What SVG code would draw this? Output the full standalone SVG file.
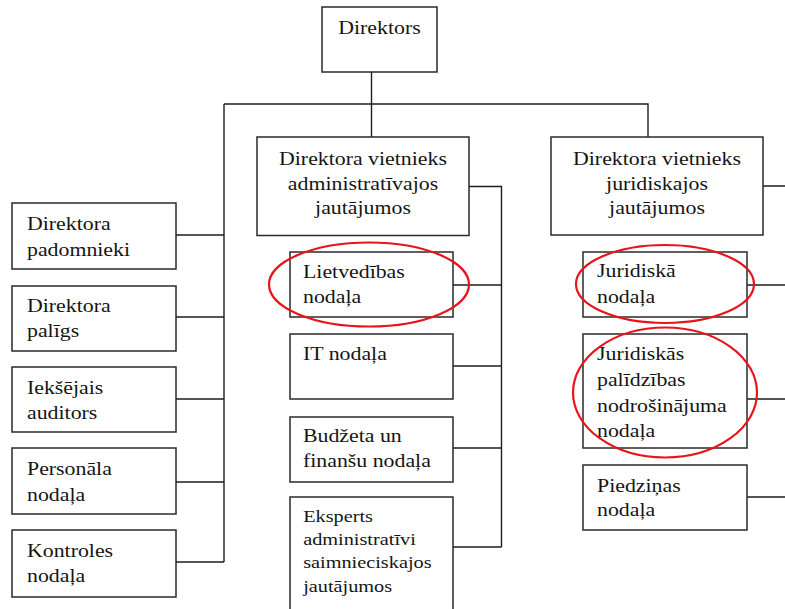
<svg xmlns="http://www.w3.org/2000/svg" width="785" height="609" viewBox="0 0 785 609" font-family="'Liberation Serif', 'DejaVu Serif', serif">
  <style>
    .box { fill: #ffffff; stroke: #2a2a2a; stroke-width: 1.5; }
    .wire { fill: none; stroke: #1e1e1e; stroke-width: 1.4; }
    .mark { fill: none; stroke: #e8141c; stroke-width: 2.2; }
    .t { font-family: 'Liberation Serif', 'DejaVu Serif', serif; font-size: 19.5px; fill: #151515;
         transform-box: fill-box; transform: scaleX(1.12); }
    .l { transform-origin: 0 0; }
    .c { text-anchor: middle; transform-origin: 50% 50%; }
    .sm { font-size: 17.5px; transform: scaleX(1.16); }
  </style>

  <!-- connectors -->
  <g id="connectors">
    <path class="wire" d="M371.5 72 V137 M224 104 H648 V137 M224 104 V562"/>
    <path class="wire" d="M176 235 H224 M176 317 H224 M176 399 H224 M176 482 H224 M176 562 H224"/>
    <path class="wire" d="M469 186.5 H501.5 V547 M453 285 H501.5 M453 366 H501.5 M453 448 H501.5 M453 547 H501.5"/>
    <path class="wire" d="M763 186 H785 M747 285 H785 M747 399 H785 M747 497 H785"/>
  </g>

  <!-- top -->
  <g id="direktors">
    <rect class="box" x="322" y="7" width="115" height="65"/>
    <text class="t c" x="379.5" y="34">Direktors</text>
  </g>

  <!-- left column -->
  <g id="padomnieki">
    <rect class="box" x="12" y="203" width="164" height="66"/>
    <text class="t l" x="27"><tspan x="27" y="230">Direktora</tspan><tspan x="27" y="256">padomnieki</tspan></text>
  </g>
  <g id="paligs">
    <rect class="box" x="12" y="286" width="164" height="65"/>
    <text class="t l" x="27"><tspan x="27" y="312">Direktora</tspan><tspan x="27" y="337">palīgs</tspan></text>
  </g>
  <g id="auditors">
    <rect class="box" x="12" y="367" width="164" height="65"/>
    <text class="t l" x="27"><tspan x="27" y="394">Iekšējais</tspan><tspan x="27" y="419">auditors</tspan></text>
  </g>
  <g id="personala">
    <rect class="box" x="12" y="448" width="164" height="66"/>
    <text class="t l" x="27"><tspan x="27" y="475">Personāla</tspan><tspan x="27" y="501">nodaļa</tspan></text>
  </g>
  <g id="kontroles">
    <rect class="box" x="12" y="530" width="164" height="67"/>
    <text class="t l" x="27"><tspan x="27" y="557">Kontroles</tspan><tspan x="27" y="582">nodaļa</tspan></text>
  </g>

  <!-- administrative deputy and units -->
  <g id="vietnieks-admin">
    <rect class="box" x="257" y="137" width="212" height="98.5"/>
    <text class="t c" x="363"><tspan x="363" y="165">Direktora vietnieks</tspan><tspan x="363" y="190">administratīvajos</tspan><tspan x="363" y="214">jautājumos</tspan></text>
  </g>
  <g id="lietvedibas">
    <rect class="box" x="290" y="252" width="163" height="65"/>
    <text class="t l" x="303"><tspan x="303" y="278">Lietvedības</tspan><tspan x="303" y="303">nodaļa</tspan></text>
  </g>
  <g id="it">
    <rect class="box" x="290" y="334" width="163" height="65"/>
    <text class="t l" x="303" y="360">IT nodaļa</text>
  </g>
  <g id="budzeta">
    <rect class="box" x="290" y="417" width="163" height="65"/>
    <text class="t l" x="303"><tspan x="303" y="442">Budžeta un</tspan><tspan x="303" y="467">finanšu nodaļa</tspan></text>
  </g>
  <g id="eksperts">
    <rect class="box" x="290" y="497" width="163" height="118"/>
    <text class="t l sm" x="303"><tspan x="303" y="522">Eksperts</tspan><tspan x="303" y="545">administratīvi</tspan><tspan x="303" y="568">saimnieciskajos</tspan><tspan x="303" y="592">jautājumos</tspan></text>
  </g>

  <!-- legal deputy and units -->
  <g id="vietnieks-jur">
    <rect class="box" x="551" y="137" width="212" height="98"/>
    <text class="t c" x="657"><tspan x="657" y="165">Direktora vietnieks</tspan><tspan x="657" y="190">juridiskajos</tspan><tspan x="657" y="214">jautājumos</tspan></text>
  </g>
  <g id="juridiska">
    <rect class="box" x="583" y="252" width="164" height="65"/>
    <text class="t l" x="597"><tspan x="597" y="277">Juridiskā</tspan><tspan x="597" y="303">nodaļa</tspan></text>
  </g>
  <g id="palidzibas">
    <rect class="box" x="583" y="334" width="164" height="114"/>
    <text class="t l" x="597"><tspan x="597" y="360">Juridiskās</tspan><tspan x="597" y="386">palīdzības</tspan><tspan x="597" y="412">nodrošinājuma</tspan><tspan x="597" y="437">nodaļa</tspan></text>
  </g>
  <g id="piedzinas">
    <rect class="box" x="583" y="465" width="164" height="65"/>
    <text class="t l" x="597"><tspan x="597" y="492">Piedziņas</tspan><tspan x="597" y="516">nodaļa</tspan></text>
  </g>

  <!-- hand-drawn highlight rings -->
  <g id="highlights">
    <ellipse class="mark" cx="369" cy="284.5" rx="100" ry="42"/>
    <ellipse class="mark" cx="665" cy="284" rx="89" ry="39"/>
    <ellipse class="mark" cx="665" cy="392.5" rx="92" ry="65"/>
  </g>
</svg>
